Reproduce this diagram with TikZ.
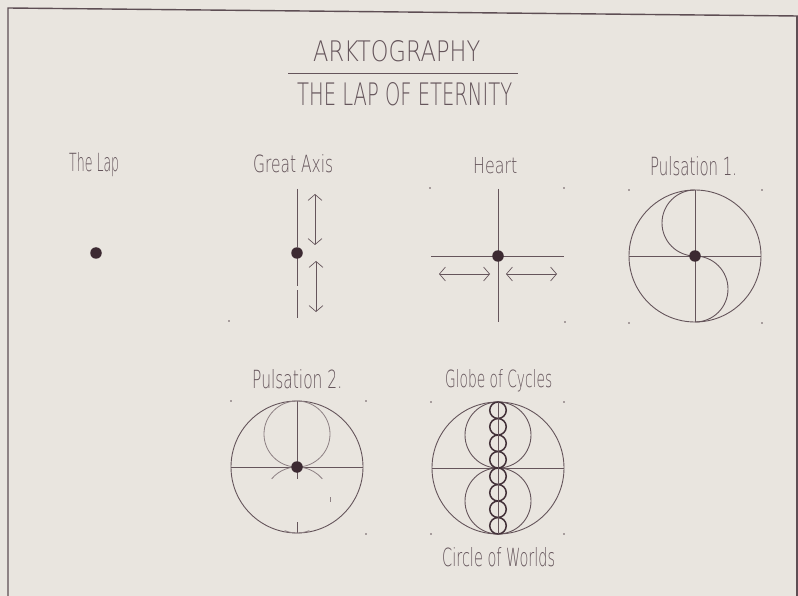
\documentclass[tikz,border=0pt]{standalone}
\usepackage{fontspec}
\usepackage{graphicx}
\newfontfamily\hand{DejaVu Sans ExtraLight}
\usetikzlibrary{arrows.meta}
\definecolor{paper}{HTML}{E9E5DF}
\definecolor{ink}{HTML}{65555B}
\definecolor{dark}{HTML}{3C2A32}
\definecolor{frame}{HTML}{5E4E54}
\newcommand{\hw}[3]{\resizebox{#1pt}{#2pt}{\hand #3}}
\begin{document}
\begin{tikzpicture}[x=1pt,y=-1pt,
  lbl/.style={anchor=base west, inner sep=0pt, text=ink},
  ln/.style={draw=ink, line width=0.9pt},
  faint/.style={draw=ink!70!paper, line width=0.8pt},
  core/.style={circle, fill=dark, inner sep=0pt, minimum size=11.5pt},
  guide/.style={circle, fill=ink, inner sep=0pt, minimum size=1.8pt},
  dbl/.style={draw=ink, line width=0.7pt, {Straight Barb[length=6pt,width=14pt]}-{Straight Barb[length=6pt,width=14pt]}},
  chain/.style={draw=dark!85!ink, line width=1.5pt},
]
\useasboundingbox (0,0) rectangle (798,596);
\fill[paper] (0,0) rectangle (798,596);
% frame
\draw[frame, line width=1.4pt] (8,600) -- (8,8) -- (798,16);
\draw[frame, line width=1.4pt] (797,16) -- (797,600);

% title
\node[lbl] (title) at (313,62) {\hw{167}{21}{ARKTOGRAPHY}};
\draw[ln] (288,73) -- (518,73);
\node[lbl] (subtitle) at (297,106) {\hw{215}{23}{THE LAP OF ETERNITY}};

% The Lap
\node[lbl] (tlap) at (69,172) {\hw{50}{19}{The Lap}};
\node[core] (lapdot) at (96,253) {};

% Great Axis
\node[lbl] (taxis) at (253,173) {\hw{80}{18}{Great Axis}};
\draw[ln] (297,189) -- (297,247);
\draw[ln] (297,258) -- (297,286);
\draw[ln] (297,290) -- (297,318);
\node[core] (axisdot) at (297,253) {};
\coordinate (a1) at (315,194);
\coordinate (a2) at (315,245);
\coordinate (a3) at (316,261);
\coordinate (a4) at (316,312);
\draw[dbl] (a1) -- (a2);
\draw[dbl] (a3) -- (a4);
\node[guide] (g1) at (229,321) {};

% Heart
\node[lbl] (theart) at (473,174) {\hw{44}{16}{Heart}};
\draw[ln] (498,189) -- (498,322);
\draw[ln] (431,256) -- (564,256);
\node[core] (heartdot) at (498,256) {};
\coordinate (h1) at (439,274);
\coordinate (h2) at (490,274);
\coordinate (h3) at (506,274);
\coordinate (h4) at (557,274);
\draw[dbl] (h1) -- (h2);
\draw[dbl] (h3) -- (h4);
\node[guide] (g2) at (430,188) {};
\node[guide] (g3) at (564,188) {};
\node[guide] (g4) at (565,322) {};

% Pulsation 1
\node[lbl] (tp1) at (650,176) {\hw{87}{19}{Pulsation 1.}};
\draw[ln] (695,256) circle[radius=66];
\draw[ln] (629,256) -- (761,256);
\draw[ln] (695,190) -- (695,322);
\draw[ln] (695,190) arc[start angle=270, end angle=90, radius=33];
\draw[ln] (695,256) arc[start angle=-90, end angle=90, radius=33];
\node[core] (p1dot) at (695,256) {};
\node[guide] (g5) at (629,190) {};
\node[guide] (g6) at (762,190) {};
\node[guide] (g7) at (629,323) {};
\node[guide] (g8) at (762,323) {};

% Pulsation 2
\node[lbl] (tp2) at (252,388) {\hw{90}{19}{Pulsation 2.}};
\draw[ln] (297,467) circle[radius=66];
\draw[ln] (231,467) -- (363,467);
\draw[ln] (297,401) -- (297,467);
\draw[ln] (297,467) -- (297,479);
\draw[ln] (297,522) -- (297,533);
\draw[faint] (297,434) circle[radius=33];
\draw[faint] (297,500) ++(-140:33) arc[start angle=-140, end angle=-40, radius=33];
\draw[faint] (297,500) ++(68:33) arc[start angle=68, end angle=112, radius=33];
\draw[faint] (330,497) -- (330,502);
\node[core] (p2dot) at (297,467) {};
\node[guide] (g9) at (231,401) {};
\node[guide] (g10) at (366,401) {};
\node[guide] (g11) at (366,534) {};

% Globe of Cycles
\node[lbl] (tglobe) at (445,387) {\hw{107}{18}{Globe of Cycles}};
\draw[ln] (498,468) circle[radius=66];
\draw[ln] (432,468) -- (564,468);
\draw[ln] (498,435) circle[radius=33];
\draw[ln] (498,501) circle[radius=33];
\foreach \k in {0,...,7} {
  \draw[chain] (498,{402+8.25*(2*\k+1)}) circle[radius=8.25];
}
\draw[ln] (498,402) -- (498,534);
\node[guide] (g12) at (431,402) {};
\node[guide] (g13) at (564,402) {};
\node[guide] (g14) at (431,534) {};
\node[guide] (g15) at (564,534) {};
\node[lbl] (tworlds) at (442,566) {\hw{113}{19}{Circle of Worlds}};
\end{tikzpicture}
\end{document}
